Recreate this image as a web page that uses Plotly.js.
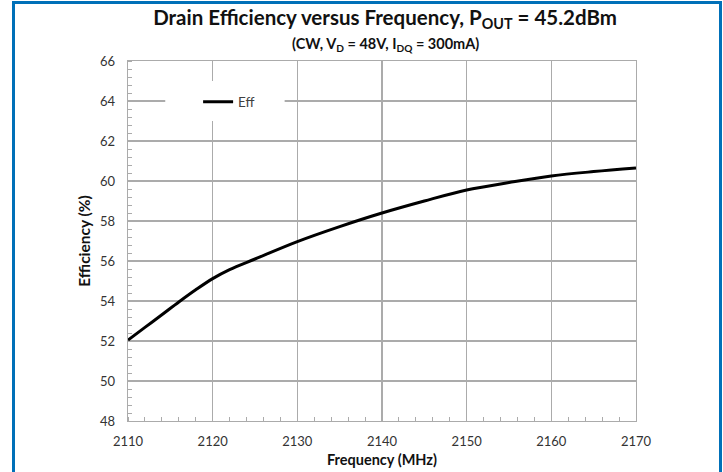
<!DOCTYPE html>
<html>
<head>
<meta charset="utf-8">
<script src="https://cdn.plot.ly/plotly-3.0.1.min.js"></script>
<style>
  html, body { margin: 0; padding: 0; background: #fff; }
  #frame { position: absolute; left: 12px; top: 1px; width: 704px; height: 480px;
           border-left: 3px solid #0070b8; border-top: 3px solid #0070b8; border-right: 3px solid #0070b8; }
  #chart { position: absolute; left: 0; top: 0; width: 723px; height: 472px; }
</style>
</head>
<body>
<div id="frame"></div>
<div id="chart"></div>
<script>
// Data
const frequency = [2110, 2112, 2114, 2116, 2118, 2120, 2122, 2125, 2130, 2135, 2140, 2145, 2150, 2155, 2160, 2165, 2170];
const efficiency = [52.05, 52.68, 53.31, 53.95, 54.56, 55.12, 55.57, 56.1, 56.97, 57.72, 58.4, 59.0, 59.55, 59.92, 60.25, 60.47, 60.65];
const seriesName = "Eff";
const xTicks = [2110, 2120, 2130, 2140, 2150, 2160, 2170];
const yTicks = [48, 50, 52, 54, 56, 58, 60, 62, 64, 66];

const fontFam = "Lato, 'Open Sans', sans-serif";
const gridCol = "#ababab";

const trace = {
  x: frequency, y: efficiency, name: seriesName, type: "scatter", mode: "lines",
  line: { color: "#000000", width: 3, shape: "spline", smoothing: 1 }
};

const layout = {
  width: 723, height: 472,
  margin: { l: 128, r: 87, t: 61, b: 51 },
  paper_bgcolor: "rgba(0,0,0,0)", plot_bgcolor: "#ffffff",
  font: { family: fontFam, color: "#404040" },
  title: {
    text: "Drain Efficiency versus Frequency, P<sub>OUT</sub> = 45.2dBm",
    font: { family: fontFam, size: 20.5, color: "#111111", weight: "bold" },
    x: 0.506, xanchor: "center", y: 0.962, yanchor: "middle", xref: "paper"
  },
  annotations: [{
    text: "(CW, V<sub>D</sub> = 48V, I<sub>DQ</sub> = 300mA)",
    xref: "paper", yref: "paper", x: 0.506, y: 1.0, yshift: 5,
    xanchor: "center", yanchor: "bottom", showarrow: false,
    font: { family: fontFam, size: 14.5, color: "#111111", weight: "bold" }
  }],
  shapes: [{
    // white backing of the legend box, covering the gridlines behind it
    type: "rect", xref: "x", yref: "y", x0: 2114.4, x1: 2128.5, y0: 63.0, y1: 65.0,
    fillcolor: "#ffffff", line: { width: 0 }, layer: "between"
  }],
  showlegend: true,
  legend: {
    x: 0.138, xanchor: "left", y: 0.886, yanchor: "middle",
    bgcolor: "rgba(0,0,0,0)", borderwidth: 0,
    font: { family: fontFam, size: 13.5, color: "#404040" }
  },
  xaxis: {
    range: [2110, 2170], tickvals: xTicks, ticktext: xTicks.map(String),
    showgrid: true, gridcolor: gridCol, gridwidth: 1.3,
    showline: true, linecolor: gridCol, linewidth: 1.3, mirror: true,
    ticks: "", ticklabelstandoff: 8, zeroline: false,
    tickfont: { family: fontFam, size: 13, color: "#333333" },
    minor: { dtick: 2, ticks: "inside", ticklen: 4, tickcolor: gridCol, showgrid: false },
    title: { text: "Frequency (MHz)", font: { family: fontFam, size: 14.5, color: "#111111", weight: "bold" }, standoff: 7 }
  },
  yaxis: {
    range: [48, 66], tickvals: yTicks, ticktext: yTicks.map(String),
    showgrid: true, gridcolor: gridCol, gridwidth: 1.3,
    showline: true, linecolor: gridCol, linewidth: 1.3, mirror: true,
    ticks: "", ticklabelstandoff: 9, zeroline: false,
    tickfont: { family: fontFam, size: 13, color: "#333333" },
    minor: { dtick: 0.4, ticks: "inside", ticklen: 4, tickcolor: gridCol, showgrid: false },
    title: { text: "Efficiency (%)", font: { family: fontFam, size: 15.5, color: "#111111", weight: "bold" }, standoff: 5 }
  }
};

Plotly.newPlot("chart", [trace], layout, { displayModeBar: false, staticPlot: true });
</script>
</body>
</html>
